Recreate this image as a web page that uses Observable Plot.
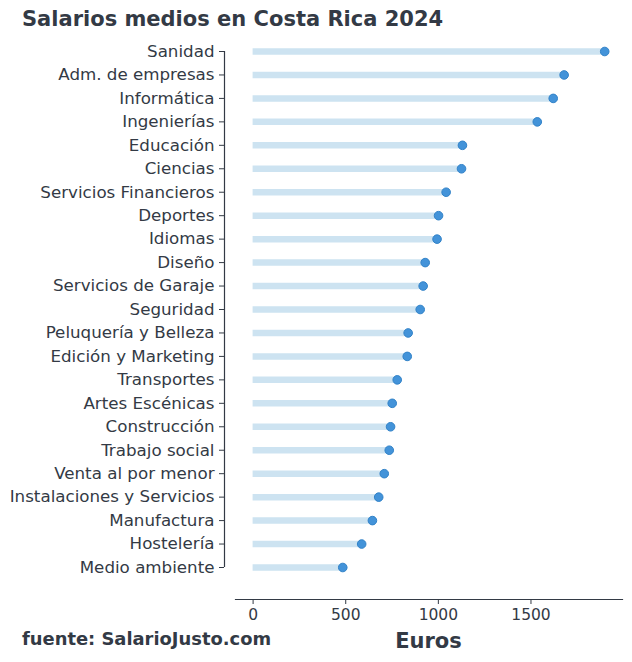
<!DOCTYPE html>
<html>
<head>
<meta charset="utf-8">
<script src="https://cdn.jsdelivr.net/npm/d3@7"></script>
<script src="https://cdn.jsdelivr.net/npm/@observablehq/plot@0.6"></script>
<style>
  body { margin: 0; background: #fff; }
  #chart { position: relative; width: 632px; height: 662px; }
  svg { font-family: "DejaVu Sans", sans-serif; }
</style>
</head>
<body>
<div id="chart"></div>
<script>
const categories = [
  "Sanidad", "Adm. de empresas", "Informática", "Ingenierías", "Educación",
  "Ciencias", "Servicios Financieros", "Deportes", "Idiomas", "Diseño",
  "Servicios de Garaje", "Seguridad", "Peluquería y Belleza", "Edición y Marketing",
  "Transportes", "Artes Escénicas", "Construcción", "Trabajo social",
  "Venta al por menor", "Instalaciones y Servicios", "Manufactura", "Hostelería",
  "Medio ambiente"
];
const salaries = [
  1898, 1679, 1620, 1534, 1130,
  1125, 1042, 1001, 993, 929,
  918, 902, 837, 832,
  778, 751, 742, 735,
  708, 678, 644, 586,
  484
];
const xTicks = [0, 500, 1000, 1500];
const titleText = "Salarios medios en Costa Rica 2024";
const sourceText = "fuente: SalarioJusto.com";
const xLabel = "Euros";

const data = categories.map((c, i) => ({category: c, value: salaries[i]}));
const textColor = "#333a45";

const chart = Plot.plot({
  width: 632,
  height: 662,
  marginLeft: 224,
  marginRight: 10,
  marginTop: 51,
  marginBottom: 63,
  style: {fontFamily: "DejaVu Sans, sans-serif", fontSize: "15px", color: textColor, background: "white"},
  x: {domain: [-95, 1994], range: [235, 622]},
  y: {type: "point", domain: categories, range: [51, 567], padding: 0, round: false},
  marks: [
    Plot.ruleY(data, {y: "category", x1: 0, x2: "value", stroke: "#cde3f1", strokeWidth: 6.5}),
    Plot.dot(data, {x: "value", y: "category", r: 4.3, fill: "#4393d9", stroke: "#3182c8", strokeWidth: 1}),
    Plot.ruleX([categories], {x: () => -95, y1: d => d[0], y2: d => d[d.length - 1], dx: -11, stroke: textColor, strokeWidth: 1.2}),
    Plot.axisY({tickSize: 5, tickPadding: 5, fontSize: 16.7, label: null, stroke: textColor, fill: textColor}),
    Plot.frame({anchor: "bottom", insetLeft: 11, stroke: textColor, strokeWidth: 1.2}),
    Plot.axisX({ticks: xTicks, tickFormat: d3.format("d"), tickSize: 5, tickPadding: 4, fontSize: 15.5, label: null, stroke: textColor, fill: textColor})
  ]
});

document.getElementById("chart").appendChild(chart);

const svg = d3.select(chart);
svg.append("text")
  .attr("x", 22).attr("y", 25.5)
  .attr("text-anchor", "start")
  .attr("font-size", 21).attr("font-weight", "bold")
  .attr("fill", textColor)
  .text(titleText);
svg.append("text")
  .attr("x", 22).attr("y", 644.5)
  .attr("text-anchor", "start")
  .attr("font-size", 17.9).attr("font-weight", "bold")
  .attr("fill", textColor)
  .text(sourceText);
svg.append("text")
  .attr("x", 428.5).attr("y", 647.5)
  .attr("text-anchor", "middle")
  .attr("font-size", 21).attr("font-weight", "bold")
  .attr("fill", textColor)
  .text(xLabel);
</script>
</body>
</html>
